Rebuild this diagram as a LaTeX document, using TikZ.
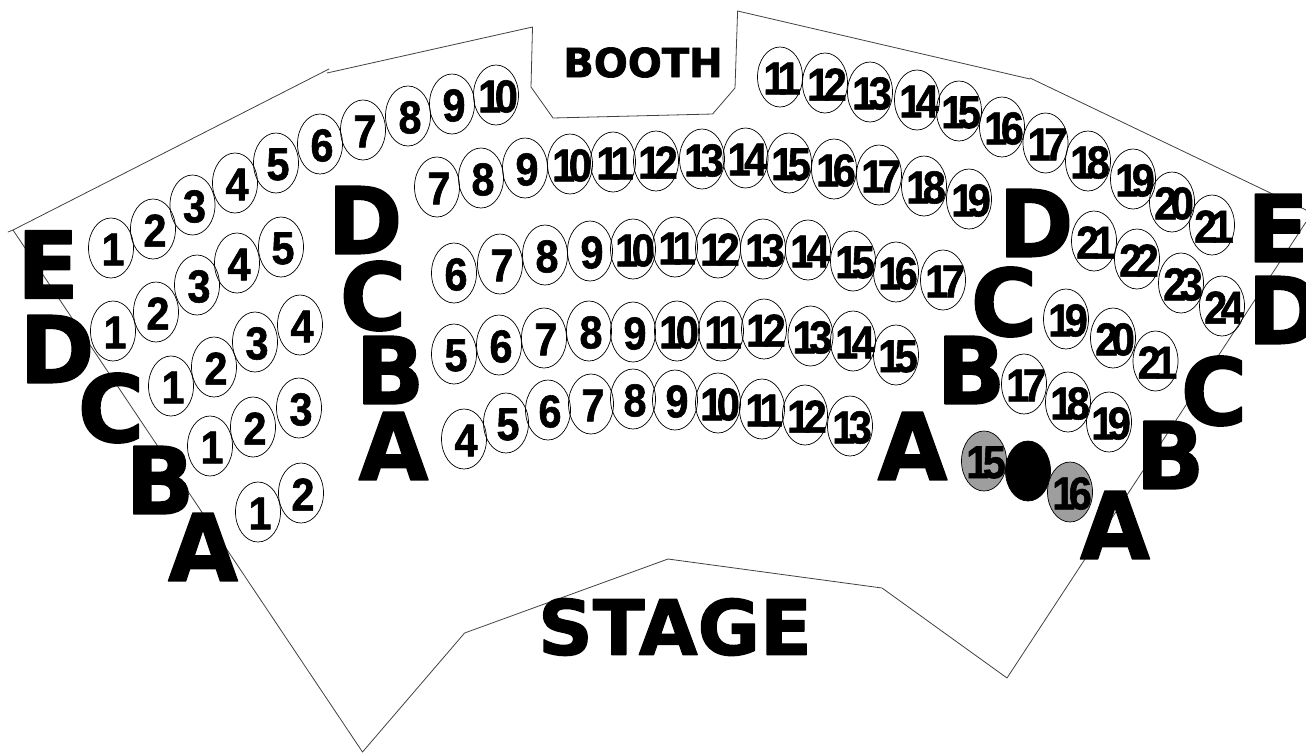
\documentclass[tikz,border=0pt]{standalone}
\usepackage{fontspec}
\usetikzlibrary{shapes.geometric}
\setmainfont{DejaVu Sans}[BoldFeatures={FakeBold=1.6}]
\newfontfamily\rowfont[BoldFeatures={FakeBold=1.6,FakeStretch=0.97}]{DejaVu Sans}
\newfontfamily\seatfont[LetterSpace=-14,BoldFeatures={FakeBold=1.3,FakeStretch=0.9}]{Liberation Sans}
\tikzset{
  wall/.style={draw=black!75, line width=0.8pt},
  seat/.style={ellipse, draw, line width=0.7pt, inner sep=0pt, minimum width=45pt, minimum height=60pt},
  seatnum/.style={inner sep=0pt, xshift=2pt, yshift=-1.5pt, font=\seatfont\bfseries\fontsize{46}{46}\selectfont},
  rowname/.style={inner sep=0pt, yshift=1pt, font=\rowfont\bfseries\fontsize{93}{93}\selectfont},
  roomname/.style={inner sep=0pt, font=\bfseries},
}

\begin{document}
\begin{tikzpicture}[x=1pt, y=-1pt, line join=round, line cap=round]
  \useasboundingbox (0,0) rectangle (1306,753);
  % walls
  \draw[wall] (8,232) -- (13,230) -- (329,69);
  \draw[wall] (327,73) -- (532.5,27) -- (531,87) -- (553,118) -- (712.6,114) -- (735,88) -- (737.6,11) -- (1030,79);
  \draw[wall] (1030,78) -- (1306,210);
  \draw[wall] (13,230) -- (362.5,752) -- (464.6,633) -- (668,559) -- (882,588) -- (1007,678) -- (1306,222);
  % white seats
  \foreach \row/\num/\x/\y in {
    el/1/111/248, el/2/153/229, el/3/192.5/205, el/4/235/183, el/5/276/163,
    el/6/320/144, el/7/363/130, el/8/408/116, el/9/452/104, el/10/496/95,
    dl/1/113/331, dl/2/156/312, dl/3/197/285, dl/4/237/263, dl/5/281/247,
    cl/1/171/386, cl/2/214/367, cl/3/255/342, cl/4/300/325,
    bl/1/210/446, bl/2/253/427, bl/3/299/408,
    al/1/258/512, al/2/301/493,
    dc/7/437/187, dc/8/481/178, dc/9/525/168, dc/10/570/164, dc/11/613/162, dc/12/656/161, dc/13/702/159,
    dc/14/745.5/158, dc/15/789/163, dc/16/834/169, dc/17/879/175, dc/18/924/186, dc/19/969/199,
    cc/6/454/273, cc/7/500/264, cc/8/545/255, cc/9/590/251, cc/10/633/249, cc/11/675/247,
    cc/12/718/248, cc/13/763/249, cc/14/808/250, cc/15/853/261, cc/16/896/272, cc/17/943/280,
    bc/5/454/354, bc/6/499/345, bc/7/544/338, bc/8/589/331, bc/9/633/332, bc/10/677/331,
    bc/11/721/331, bc/12/764/329, bc/13/810.5/336, bc/14/853/341, bc/15/896/355,
    ac/4/464/439, ac/5/506/423, ac/6/548/410, ac/7/591/404, ac/8/633/399,
    ac/9/675/400, ac/10/718/403, ac/11/762/409, ac/12/805/415, ac/13/850/426,
    br/17/1024/384, br/18/1068/402, br/19/1109/422,
    cr/19/1066/319, cr/20/1113/338, cr/21/1155.5/361,
    dr/21/1094/241, dr/22/1137/259, dr/23/1181/283, dr/24/1222/306,
    er/11/780/77, er/12/825/83, er/13/870/92, er/14/917/100, er/15/959/111, er/16/1002/127,
    er/17/1045.5/143, er/18/1088/161, er/19/1133/179, er/20/1172/202, er/21/1212/225} {
    \node[seat] (seat-\row-\num) at (\x,\y) {};
    \node[seatnum] (num-\row-\num) at (seat-\row-\num) {\num};
  }
  % taken seats
  \node[seat, fill=black!38] (seat-ar-15) at (984,461) {};
  \node[seatnum] (num-ar-15) at (seat-ar-15) {15};
  \node[seat, fill=black] (seat-ar-x) at (1028,471) {};
  \node[seat, fill=black!38] (seat-ar-16) at (1070,492) {};
  \node[seatnum] (num-ar-16) at (seat-ar-16) {16};
  % row letters
  \foreach \name/\txt/\x/\y in {
    le/E/48/265.5, ld/D/57/350, lc/C/111/409, lb/B/160/481, la/A/203/548,
    md/D/365/221, mc/C/373/297, mb/B/390/371, ma/A/393.5/447,
    nd/D/1036/224, nc/C/1004/303, nb/B/971/371, na/A/912.5/447,
    re/E/1278/229, rd/D/1285/311, rc/C/1214/392, rb/B/1170/456, ra/A/1115/526} {
    \node[rowname] (row-\name) at (\x,\y) {\txt};
  }
  \node[roomname, font=\bfseries\fontsize{40}{40}\selectfont] (booth) at (643,62.5) {BOOTH};
  \node[roomname, yshift=1pt, font=\bfseries\fontsize{76}{76}\selectfont] (stage) at (675,628) {STAGE};
\end{tikzpicture}
\end{document}
